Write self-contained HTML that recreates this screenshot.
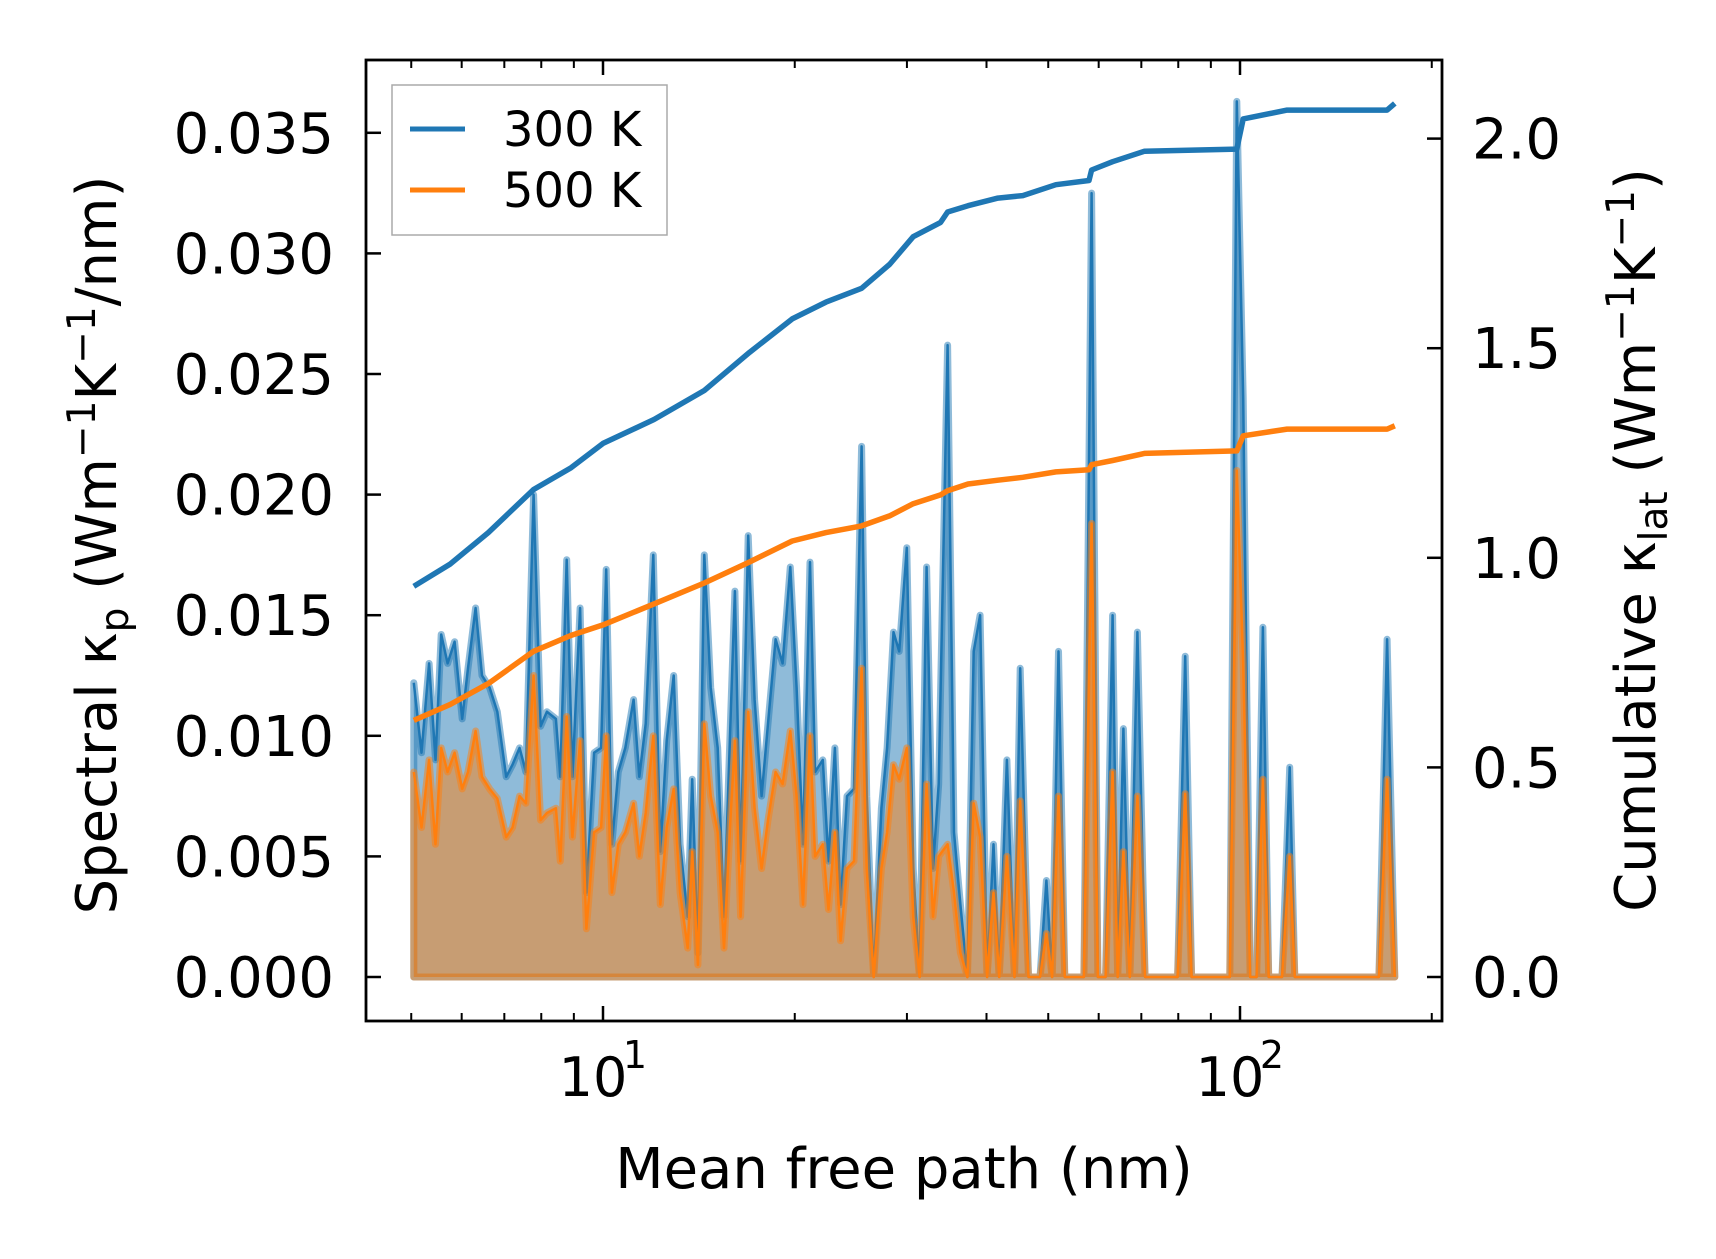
<!DOCTYPE html>
<html><head><meta charset="utf-8">
<style>
html,body{margin:0;padding:0;background:#fff;}
svg text{font-family:"DejaVu Sans","Liberation Sans",sans-serif;fill:#000;}
</style></head>
<body>
<svg id="chart" width="1716" height="1254" viewBox="0 0 1716 1254" xmlns="http://www.w3.org/2000/svg">
<rect width="1716" height="1254" fill="#fff"/>
<g id="plot"></g>
<g id="axes"></g>
</svg>
<script>
// log10 of mean free path (nm)
const logMfp = [0.703,0.715,0.727,0.737,0.746,0.756,0.767,0.779,0.788,0.800,0.810,0.822,0.834,0.848,0.858,0.869,0.879,0.891,0.902,0.912,0.926,0.933,0.943,0.952,0.964,0.974,0.986,0.997,1.005,1.014,1.024,1.035,1.048,1.057,1.067,1.079,1.090,1.100,1.111,1.121,1.133,1.140,1.149,1.159,1.169,1.180,1.190,1.200,1.207,1.216,1.228,1.238,1.249,1.259,1.271,1.282,1.294,1.304,1.314,1.325,1.333,1.345,1.354,1.364,1.373,1.383,1.394,1.406,1.414,1.425,1.437,1.446,1.456,1.465,1.477,1.487,1.497,1.508,1.518,1.527,1.541,1.551,1.561,1.572,1.582,1.592,1.603,1.613,1.622,1.634,1.646,1.655,1.668,1.686,1.696,1.705,1.715,1.725,1.755,1.767,1.777,1.789,1.800,1.808,1.817,1.827,1.839,1.851,1.860,1.902,1.914,1.924,1.984,1.995,2.005,2.016,2.026,2.036,2.045,2.066,2.078,2.086,2.218,2.231,2.243];
const spec300 = [0.0122,0.0093,0.0130,0.0090,0.0142,0.0130,0.0139,0.0107,0.0128,0.0153,0.0125,0.0120,0.0110,0.0083,0.0088,0.0095,0.0085,0.0200,0.0104,0.0110,0.0107,0.0083,0.0173,0.0083,0.0153,0.0035,0.0093,0.0095,0.0169,0.0055,0.0085,0.0095,0.0115,0.0083,0.0105,0.0175,0.0052,0.0098,0.0125,0.0055,0.0025,0.0082,0.0010,0.0175,0.0120,0.0095,0.0025,0.0105,0.0160,0.0048,0.0183,0.0115,0.0075,0.0105,0.0140,0.0130,0.0170,0.0120,0.0055,0.0172,0.0085,0.0090,0.0048,0.0095,0.0030,0.0075,0.0078,0.0220,0.0075,0.0000,0.0070,0.0095,0.0143,0.0135,0.0178,0.0045,0.0000,0.0170,0.0045,0.0080,0.0262,0.0060,0.0030,0.0000,0.0135,0.0150,0.0000,0.0055,0.0000,0.0090,0.0000,0.0128,0.0000,0.0000,0.0040,0.0000,0.0135,0.0000,0.0000,0.0325,0.0000,0.0000,0.0150,0.0000,0.0103,0.0000,0.0143,0.0000,0.0000,0.0000,0.0133,0.0000,0.0000,0.0363,0.0240,0.0000,0.0000,0.0145,0.0000,0.0000,0.0087,0.0000,0.0000,0.0140,0.0000];
const spec500 = [0.0085,0.0062,0.0090,0.0055,0.0095,0.0085,0.0093,0.0078,0.0085,0.0102,0.0083,0.0078,0.0074,0.0058,0.0062,0.0075,0.0072,0.0125,0.0065,0.0068,0.0070,0.0048,0.0108,0.0058,0.0098,0.0020,0.0060,0.0062,0.0100,0.0035,0.0055,0.0060,0.0072,0.0050,0.0068,0.0100,0.0030,0.0062,0.0078,0.0035,0.0012,0.0052,0.0005,0.0105,0.0075,0.0060,0.0012,0.0065,0.0098,0.0025,0.0110,0.0070,0.0045,0.0065,0.0085,0.0080,0.0102,0.0075,0.0030,0.0100,0.0050,0.0055,0.0028,0.0060,0.0015,0.0045,0.0048,0.0128,0.0045,0.0000,0.0045,0.0060,0.0088,0.0082,0.0095,0.0025,0.0000,0.0080,0.0025,0.0050,0.0055,0.0035,0.0010,0.0000,0.0072,0.0058,0.0000,0.0035,0.0000,0.0050,0.0000,0.0073,0.0000,0.0000,0.0018,0.0000,0.0075,0.0000,0.0000,0.0188,0.0000,0.0000,0.0085,0.0000,0.0052,0.0000,0.0075,0.0000,0.0000,0.0000,0.0076,0.0000,0.0000,0.0210,0.0130,0.0000,0.0000,0.0082,0.0000,0.0000,0.0050,0.0000,0.0000,0.0082,0.0000];
const cumLog = [0.703,0.760,0.820,0.891,0.950,1.000,1.080,1.159,1.230,1.297,1.350,1.406,1.450,1.487,1.530,1.541,1.573,1.620,1.659,1.711,1.763,1.767,1.800,1.850,1.995,2.005,2.074,2.231,2.243];
const cum300 = [0.932,0.985,1.060,1.163,1.215,1.273,1.330,1.399,1.490,1.570,1.610,1.643,1.700,1.766,1.800,1.825,1.840,1.858,1.864,1.890,1.900,1.925,1.945,1.970,1.975,2.047,2.068,2.068,2.084];
const cum500 = [0.612,0.650,0.700,0.777,0.815,0.840,0.890,0.940,0.990,1.040,1.060,1.076,1.100,1.129,1.150,1.160,1.176,1.185,1.192,1.205,1.210,1.222,1.232,1.249,1.255,1.291,1.307,1.307,1.315];
const leftTicks = [0,0.005,0.010,0.015,0.020,0.025,0.030,0.035];
const leftTickLabels = ["0.000","0.005","0.010","0.015","0.020","0.025","0.030","0.035"];
const rightTicks = [0,0.5,1.0,1.5,2.0];
const rightTickLabels = ["0.0","0.5","1.0","1.5","2.0"];
const xMajor = [1,2];

const AX = {l:366, r:1442, t:60, b:1021};
const X = lg => 603 + (lg - 1) * 637;
const YL = v => 977 - v / 0.005 * 120.6;
const YR = v => 977 - v / 0.5 * 209.6;
const NS = "http://www.w3.org/2000/svg";
function mk(tag, attrs, parent){ const e=document.createElementNS(NS,tag); for(const k in attrs) e.setAttribute(k,attrs[k]); parent.appendChild(e); return e; }
const plot = document.getElementById('plot');
const axes = document.getElementById('axes');
const defs = mk('defs',{},plot);
const cp = mk('clipPath',{id:'clip'},defs);
mk('rect',{x:AX.l,y:AX.t,width:AX.r-AX.l,height:AX.b-AX.t},cp);
const g = mk('g',{'clip-path':'url(#clip)'},plot);

function fillSeries(vals, color, name){
  let pts = logMfp.map((lg,i)=>X(lg).toFixed(1)+','+YL(vals[i]).toFixed(1));
  const d = 'M'+X(logMfp[0]).toFixed(1)+','+YL(0)+' L'+pts.join(' L')+' L'+X(logMfp[logMfp.length-1]).toFixed(1)+','+YL(0)+' Z';
  const p = mk('path',{d:d,fill:color,'fill-opacity':0.5,stroke:color,'stroke-opacity':0.5,'stroke-width':7,'stroke-linejoin':'round'},g);
  
  
  const l = mk('polyline',{points:pts.join(' '),fill:'none',stroke:color,'stroke-width':2.5,'stroke-linejoin':'round'},g);
  
  
}
fillSeries(spec300,'#1f77b4','spectral-300k');
fillSeries(spec500,'#ff7f0e','spectral-500k');

function cumLine(vals,color,name){
  const pts = cumLog.map((lg,i)=>X(lg).toFixed(1)+','+YR(vals[i]).toFixed(1)).join(' ');
  const l = mk('polyline',{points:pts,fill:'none',stroke:color,'stroke-width':5.5,'stroke-linejoin':'round'},g);
  
  
}
cumLine(cum300,'#1f77b4','cumulative-300k');
cumLine(cum500,'#ff7f0e','cumulative-500k');

const fr = mk('rect',{x:AX.l,y:AX.t,width:AX.r-AX.l,height:AX.b-AX.t,fill:'none',stroke:'#000','stroke-width':2.8},axes);



leftTicks.forEach((v,i)=>{
  const y = YL(v);
  mk('line',{x1:AX.l,x2:AX.l+15,y1:y,y2:y,stroke:'#000','stroke-width':2.5},axes);
  const t = mk('text',{x:334,y:y+20,'text-anchor':'end','font-size':56},axes);
  t.textContent = leftTickLabels[i];
  
  
});
rightTicks.forEach((v,i)=>{
  const y = YR(v);
  mk('line',{x1:AX.r-15,x2:AX.r,y1:y,y2:y,stroke:'#000','stroke-width':2.5},axes);
  const t = mk('text',{x:1472,y:y+20,'text-anchor':'start','font-size':56},axes);
  t.textContent = rightTickLabels[i];
  
  
});
for(let dec=0; dec<=2; dec++){
  for(let m=1; m<=9; m++){
    const lg = dec + Math.log10(m);
    const x = X(lg);
    if(x < AX.l || x > AX.r) continue;
    const len = m===1 ? 15 : 8;
    mk('line',{x1:x,x2:x,y1:AX.b,y2:AX.b-len,stroke:'#000','stroke-width':m===1?2.5:2},axes);
    mk('line',{x1:x,x2:x,y1:AX.t,y2:AX.t+len,stroke:'#000','stroke-width':m===1?2.5:2},axes);
  }
}
xMajor.forEach(p=>{
  const x = X(p);
  const t = mk('text',{x:x-10,y:1096,'text-anchor':'middle','font-size':54},axes);
  t.textContent = '10';
  
  
  const s = mk('text',{x:x+32,y:1068,'text-anchor':'middle','font-size':38},axes);
  s.textContent = String(p);
});
</script>
<svg style="position:absolute;left:0;top:0" width="1716" height="1254" xmlns="http://www.w3.org/2000/svg">
<g>
<rect x="392" y="85" width="275" height="150" fill="#fff" fill-opacity="0.8" stroke="#aaa" stroke-width="1.5"/>
<line x1="410" y1="129" x2="465" y2="129" stroke="#1f77b4" stroke-width="5"/>
<text x="503" y="146" font-size="48">300 K</text>
<line x1="410" y1="190" x2="465" y2="190" stroke="#ff7f0e" stroke-width="5"/>
<text x="503" y="207" font-size="48">500 K</text>
</g>
<text x="904" y="1188" font-size="56" text-anchor="middle">Mean free path (nm)</text>
<text transform="translate(116,545) rotate(-90)" font-size="56" text-anchor="middle">Spectral κ<tspan font-size="39" dy="12">p</tspan><tspan dy="-12"> (Wm</tspan><tspan font-size="39" dy="-21">−1</tspan><tspan dy="21">K</tspan><tspan font-size="39" dy="-21">−1</tspan><tspan dy="21">/nm)</tspan></text>
<text transform="translate(1655,540) rotate(-90)" font-size="56" text-anchor="middle">Cumulative κ<tspan font-size="39" dy="12">lat</tspan><tspan dy="-12"> (Wm</tspan><tspan font-size="39" dy="-21">−1</tspan><tspan dy="21">K</tspan><tspan font-size="39" dy="-21">−1</tspan><tspan dy="21">)</tspan></text>
</svg>
</body></html>
